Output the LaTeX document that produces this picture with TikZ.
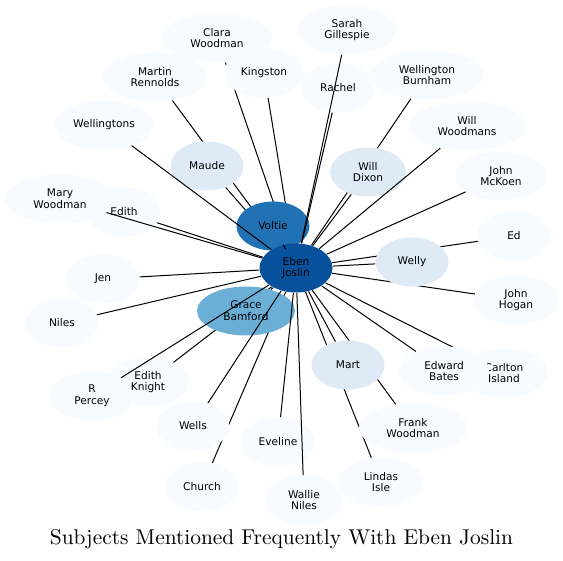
\documentclass[tikz,border=0pt]{standalone}
\usepackage{fontspec}
\usepackage{xcolor}
\usepackage{tikz}
\usetikzlibrary{shapes.geometric}
\newfontfamily\subjfont{DejaVu Sans}
\definecolor{hubblue}{HTML}{08519C}
\definecolor{oneblue}{HTML}{2171B5}
\definecolor{twoblue}{HTML}{6BAED6}
\definecolor{threeblue}{HTML}{DEEBF7}
\definecolor{fourblue}{HTML}{F7FBFF}
\pgfdeclarelayer{background}
\pgfsetlayers{background,main}
\tikzset{%
  % classes
  subj/.style={ellipse, inner sep=0pt, align=center, minimum width=36.5pt, minimum height=24.5pt,
    font=\subjfont\fontsize{5.3}{5.9}\selectfont},
  hub/.style={subj, fill=hubblue},
  lvlone/.style={subj, fill=oneblue},
  lvltwo/.style={subj, fill=twoblue},
  lvlthree/.style={subj, fill=threeblue},
  lvlfour/.style={subj, fill=fourblue},
  % edge styles
  link/.style={line width=0.5pt},
  title/.style={font=\fontsize{10.7}{13}\selectfont, anchor=base},
}

\begin{document}
\begin{tikzpicture}[x=0.5pt, y=-0.5pt]
  \useasboundingbox (0,0) rectangle (563,561);

  % Outer subjects
  \node[lvlfour, minimum width=55pt] (clara) at (217,38) {Clara\\Woodman};
  \node[lvlfour, minimum width=49pt] (sarah) at (347,30) {Sarah\\Gillespie};
  \node[lvlfour, minimum width=52pt] (martin) at (155,77) {Martin\\Rennolds};
  \node[lvlfour, minimum width=40pt] (kingston) at (264,73) {Kingston};
  \node[lvlfour] (rachel) at (338,88) {Rachel};
  \node[lvlfour, minimum width=56.5pt] (wburnham) at (427,75) {Wellington\\Burnham};
  \node[lvlfour, minimum width=49pt] (wellingtons) at (104,125) {Wellingtons};
  \node[lvlfour, minimum width=58.5pt] (wwoodmans) at (467,126) {Will\\Woodmans};
  \node[lvlfour, minimum width=45.5pt] (mckoen) at (501,176) {John\\McKoen};
  \node[lvlfour, minimum width=55pt] (marywood) at (60,199) {Mary\\Woodman};
  \node[lvlfour] (edith) at (124,212) {Edith};
  \node[lvlfour] (ed) at (514,236) {Ed};
  \node[lvlfour] (jen) at (103,279) {Jen};
  \node[lvlfour, minimum width=42pt] (hogan) at (516,300) {John\\Hogan};
  \node[lvlfour] (niles) at (62,323) {Niles};
  \node[lvlfour, minimum width=43.5pt] (carlton) at (504,373) {Carlton\\Island};
  \node[lvlfour, minimum width=45pt] (edward) at (444,371) {Edward\\Bates};
  \node[lvlfour, minimum width=42pt] (rpercey) at (92,396) {R\\Percey};
  \node[lvlfour, minimum width=40.5pt] (eknight) at (148,382) {Edith\\Knight};
  \node[lvlfour, minimum width=54pt] (frank) at (413,428) {Frank\\Woodman};
  \node[lvlfour] (wells) at (193,426) {Wells};
  \node[lvlfour] (eveline) at (278,442) {Eveline};
  \node[lvlfour, minimum width=42pt] (lindas) at (381,482) {Lindas\\Isle};
  \node[lvlfour] (church) at (202,487) {Church};
  \node[lvlfour, minimum width=39pt] (wallie) at (304,500) {Wallie\\Niles};

  % Frequent subjects
  \node[lvlthree] (maude) at (207,166) {Maude};
  \node[lvlthree, minimum width=38pt] (willdixon) at (368,172) {Will\\Dixon};
  \node[lvlthree] (welly) at (412,262) {Welly};
  \node[lvlthree] (mart) at (348,365) {Mart};
  \node[lvltwo, minimum width=49pt] (grace) at (246,311) {Grace\\Bamford};
  \node[lvlone] (voltie) at (273,226) {Voltie};
  \node[hub] (eben) at (296,268) {Eben\\Joslin};

  % Links under the nodes
  \begin{pgfonlayer}{background}
    \draw[link] (eben) -- (clara);
    \draw[link] (eben) -- (kingston);
    \draw[link] (eben) -- (martin);
    \draw[link] (eben) -- (maude);
    \draw[link] (eben) -- (wburnham);
    \draw[link] (eben) -- (ed);
    \draw[link] (eben) -- (hogan);
    \draw[link] (eben) -- (frank);
    \draw[link] (eben) -- (lindas);
    \draw[link] (eben) -- (carlton);
    \draw[link] (eben) -- (eknight);
    \draw[link] (eben) -- (church);
    \draw[link] (eben) -- (grace);
  \end{pgfonlayer}

  % Links over the nodes
  \draw[link] (eben) -- (voltie);
  \draw[link] (eben) -- (wellingtons);
  \draw[link] (eben) -- (marywood);
  \draw[link] (eben) -- (edith);
  \draw[link] (eben) -- (sarah);
  \draw[link] (eben) -- (rachel);
  \draw[link] (eben) -- (willdixon);
  \draw[link] (eben) -- (wwoodmans);
  \draw[link] (eben) -- (mckoen);
  \draw[link] (eben) -- (welly);
  \draw[link] (eben) -- (jen);
  \draw[link] (eben) -- (niles);
  \draw[link] (eben) -- (rpercey);
  \draw[link] (eben) -- (wells);
  \draw[link] (eben) -- (eveline);
  \draw[link] (eben) -- (wallie);
  \draw[link] (eben) -- (mart);
  \draw[link] (eben) -- (edward);

  % Title
  \node[title] (caption) at (281.5,545) {Subjects Mentioned Frequently With Eben Joslin};
\end{tikzpicture}
\end{document}
